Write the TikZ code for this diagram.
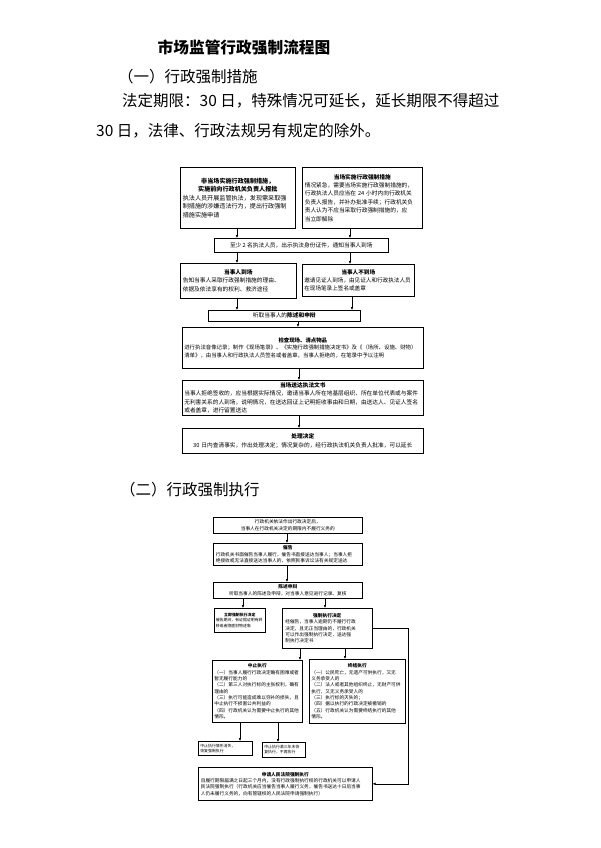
\documentclass[tikz,border=0pt]{standalone}
\usepackage{fontspec}
\setmainfont{Noto Sans CJK SC}
\usepackage{tikz}
\usetikzlibrary{arrows.meta}

\begin{document}
\begin{tikzpicture}[
		x=1pt, y=-1pt,
		every node/.style={inner sep=0pt},
		box/.style={rectangle, draw, line width=0.6pt, anchor=north west, inner sep=2.5pt},
		big/.style={font=\fontsize{5.7}{8.4}\selectfont},
		small/.style={font=\fontsize{4.7}{6.3}\selectfont},
		tiny/.style={font=\fontsize{3.9}{5.4}\selectfont},
		head/.style={anchor=west, font=\fontsize{15.5}{18}\selectfont},
		arr/.style={-{Latex[length=3pt, width=2.6pt]}, line width=0.5pt}
	]
  \path [fill=white] (0,0) rectangle (600,848);
  \useasboundingbox (0,0) rectangle (600,848);

  % headings
  \node (title) [font=\bfseries\fontsize{15.7}{18}\selectfont] at (244, 48) {市场监管行政强制流程图};
  \node (part_1) [head] at (118, 77) {（一）行政强制措施};
  \node (limit_1) [head] at (122, 101) {法定期限：30 日，特殊情况可延长，延长期限不得超过};
  \node (limit_2) [head] at (96, 131) {30 日，法律、行政法规另有规定的除外。};
  \node (part_2) [head] at (120, 490) {（二）行政强制执行};

  % measures
  \node (m_apply) [box, font=\fontsize{6.1}{8.6}\selectfont, text width=110, minimum height=61] at (180, 167) {{\centering\bfseries 非当场实施行政强制措施，\\实施前向行政机关负责人报批\par}\raggedright 执法人员开展监管执法，发现需采取强\\制措施的涉嫌违法行为，提出行政强制\\措施实施申请};
  \node (m_urgent) [box, big, text width=115, minimum height=61] at (302, 167) {{\centering\bfseries 当场实施行政强制措施\par}\raggedright 情况紧急，需要当场实施行政强制措施的，\\行政执法人员应当在 24 小时内向行政机关\\负责人报告，并补办批准手续；行政机关负\\责人认为不应当采取行政强制措施的，应\\当立即解除};
  \node (m_notify) [box, big, minimum width=174, minimum height=14] at (214, 238) {至少 2 名执法人员，出示执法身份证件，通知当事人到场};
  \node (m_present) [box, big, text width=111, minimum height=35] at (180, 263) {{\centering\bfseries 当事人到场\par}\raggedright 告知当事人采取行政强制措施的理由、\\依据及依法享有的权利、救济途径};
  \node (m_absent) [box, font=\fontsize{5.6}{8.4}\selectfont, inner sep=2pt, text width=108, minimum height=32] at (302, 264) {{\centering\bfseries 当事人不到场\par}\raggedright 邀请见证人到场，由见证人和行政执法人员\\在现场笔录上签名或盖章};
  \node (m_hear) [box, big, minimum width=152, minimum height=11] at (208, 310) {听取当事人的\textbf{陈述和申辩}};
  \node (m_check) [box, font=\fontsize{5.4}{7.6}\selectfont, inner sep=2pt, text width=237, minimum height=41] at (182, 327) {{\centering\bfseries 检查现场、清点物品\par}\raggedright 进行执法音像记录；制作《现场笔录》、《实施行政强制措施决定书》及《（场所、设施、财物）\\清单》，由当事人和行政执法人员签名或者盖章，当事人拒绝的，在笔录中予以注明};
  \node (m_serve) [box, big, inner sep=2pt, text width=237, minimum height=35] at (182, 380) {{\centering\bfseries 当场送达执法文书\par}\raggedright 当事人拒绝签收的，应当根据实际情况，邀请当事人所在地基层组织、所在单位代表或与案件\\无利害关系的人到场，说明情况，在送达回证上记明拒收事由和日期，由送达人、见证人签名\\或者盖章，进行留置送达};
  \node (m_decide) [box, big, align=center, inner sep=2pt, text width=237, minimum height=25] at (182, 428) {\textbf{处理决定}\\30 日内查清事实，作出处理决定；情况复杂的，经行政执法机关负责人批准，可以延长};

  \draw [arr] (m_apply.south -| 237,0) -- (m_notify.north -| 237,0);
  \draw [arr] (m_urgent.south -| 350,0) -- (m_notify.north -| 350,0);
  \draw [arr] (m_notify.south -| 237,0) -- (m_present.north -| 237,0);
  \draw [arr] (m_notify.south -| 350,0) -- (m_absent.north -| 350,0);
  \draw [arr] (m_present.south -| 237,0) -- (m_hear.north -| 237,0);
  \draw [arr] (m_absent.south -| 352,0) -- (m_hear.north -| 352,0);
  \draw [arr] (m_hear.south -| 298,0) -- (m_check.north -| 298,0);
  \draw [arr] (m_check.south -| 299,0) -- (m_serve.north -| 299,0);
  \draw [arr] (m_serve.south -| 299,0) -- (m_decide.north -| 299,0);

  % enforcement
  \node (e_start) [box, small, align=center, text width=144, minimum height=16] at (213, 517) {行政机关依法作出行政决定后，\\当事人在行政机关决定的期限内不履行义务的};
  \node (e_urge) [box, small, text width=144, minimum height=22] at (213, 543) {{\centering\bfseries 催告\par}\raggedright 行政机关书面催告当事人履行，催告书直接送达当事人；当事人拒\\绝接收或无法直接送达当事人的，依照民事诉讼法有关规定送达};
  \node (e_plea) [box, small, align=center, text width=144, minimum height=16] at (213, 582) {\textbf{陈述申辩}\\听取当事人的陈述及申辩，对当事人意见进行记录、复核};
  \node (e_now) [box, tiny, inner sep=1.5pt, text width=48, minimum height=24] at (214, 608) {{\centering\bfseries 立即强制执行决定\par}\raggedright 催告期间，有证据证明有转\\移或者隐匿财物迹象};
  \node (e_decide) [box, small, inner sep=3pt, text width=84, minimum height=40] at (282, 608) {{\centering\bfseries 强制执行决定\par}\raggedright 经催告，当事人逾期仍不履行行政\\决定，且无正当理由的，行政机关\\可以作出强制执行决定，送达强\\制执行决定书};
  \node (e_pause) [box, small, inner sep=2pt, text width=86, minimum height=62] at (212, 660) {{\centering\bfseries 中止执行\par}\raggedright （一）当事人履行行政决定确有困难或者\\暂无履行能力的\\（二）第三人对执行标的主张权利，确有\\理由的\\（三）执行可能造成难以弥补的损失，且\\中止执行不损害公共利益的\\（四）行政机关认为需要中止执行的其他\\情形。};
  \node (e_end) [box, small, inner sep=2pt, text width=92, minimum height=64] at (309, 659) {{\centering\bfseries 终结执行\par}\raggedright （一）公民死亡，无遗产可供执行，又无\\义务承受人的\\（二）法人或者其他组织终止，无财产可供\\执行，又无义务承受人的\\（三）执行标的灭失的；\\（四）据以执行的行政决定被撤销的\\（五）行政机关认为需要终结执行的其他\\情形。};
  \node (e_resume) [box, tiny, inner sep=2pt, text width=50, minimum height=14] at (198, 741) {\raggedright 中止执行情形消失，\\恢复强制执行};
  \node (e_stop) [box, tiny, inner sep=2pt, text width=39, minimum height=15] at (262, 742) {\raggedright 中止执行满三年未恢\\复执行，不再执行};
  \node (e_court) [box, small, inner sep=2.5pt, text width=169, minimum height=33] at (198, 767) {{\centering\bfseries 申请人民法院强制执行\par}\raggedright 自履行期限届满之日起三个月内，没有行政强制执行权的行政机关可以申请人\\民法院强制执行（行政机关应当催告当事人履行义务，催告书送达十日后当事\\人仍未履行义务的，向有管辖权的人民法院申请强制执行）};

  \draw [arr] (e_start.south -| 287,0) -- (e_urge.north -| 287,0);
  \draw [arr] (e_urge.south -| 287,0) -- (e_plea.north -| 287,0);
  \draw [arr] (e_plea.south -| 243,0) -- (e_now.north -| 243,0);
  \draw [arr] (e_plea.south -| 325,0) -- (e_decide.north -| 325,0);
  \draw [arr] (e_decide.south -| 300,0) -- (e_pause.north -| 300,0);
  \draw [arr] (e_decide.south -| 345,0) -- (e_end.north -| 345,0);
  \draw [arr] (e_pause.south -| 240,0) -- (e_resume.north -| 240,0);
  \draw [arr] (e_pause.south -| 278,0) -- (e_stop.north -| 278,0);
  \draw [arr] (e_decide.east) -- ++(36,0) |- (e_court.east);
\end{tikzpicture}
\end{document}
